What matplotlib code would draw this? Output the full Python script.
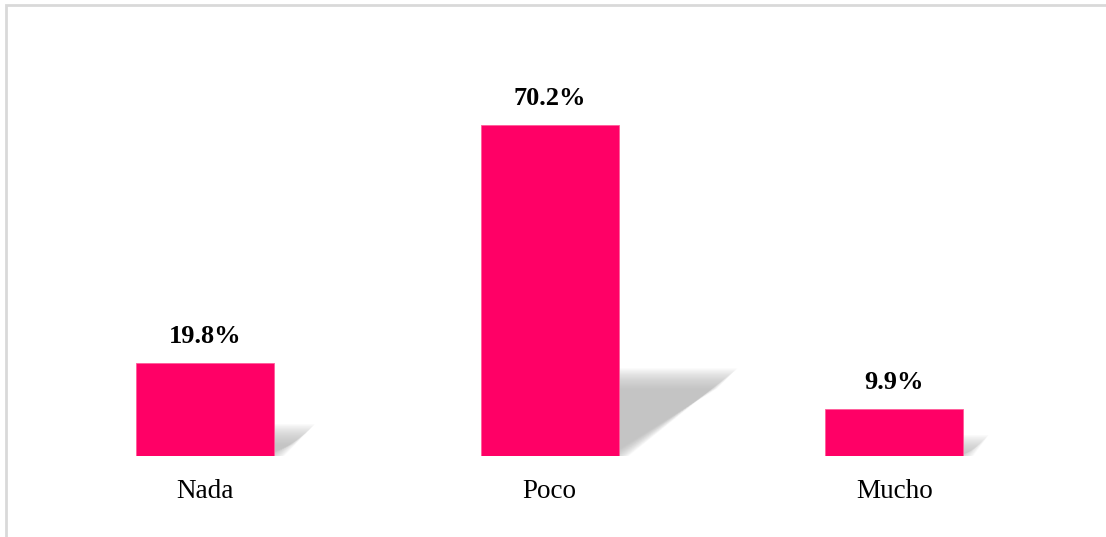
import matplotlib
matplotlib.use("Agg")
import matplotlib.pyplot as plt
from matplotlib.patches import Polygon, Rectangle
import numpy as np

categories = ["Nada", "Poco", "Mucho"]
values = [19.8, 70.2, 9.9]
labels = ["19.8%", "70.2%", "9.9%"]

W, H = 1106, 537
fig = plt.figure(figsize=(W / 100, H / 100), dpi=100)
fig.patch.set_facecolor("white")

# outer light border (top and left visible)
fig.add_artist(Rectangle((5.5 / W, -0.1), 1.2, (H - 4.5) / H + 0.1,
                         transform=fig.transFigure, fill=False,
                         edgecolor="#d9d9d9", linewidth=2.0))

ax = fig.add_axes([33 / W, 81 / H, 1033.5 / W, 377 / H])
ax.set_xlim(-0.5, 2.5)
ax.set_ylim(0, 80)
ax.axis("off")

bar_w = 0.4
color = "#FF0066"
x = np.arange(len(categories))

# pixel sizes in data units
px_x = 3.0 / 1033.5
px_y = 80.0 / 377.0

# soft shadows
s_dx = 0.0045
s_dy = 0.235
n_layers = 20
for xi, v in zip(x, values):
    for j in range(n_layers):
        e = 10.0 - j * (20.0 / (n_layers - 1))  # px expansion
        l = xi - bar_w / 2
        r = xi + bar_w / 2 + e * px_x
        top = max(v * s_dy + e * px_y, 0)
        sh = v * s_dx
        pts = [(l, 0), (r, 0), (r + sh, top), (l + sh, top)]
        ax.add_patch(Polygon(pts, closed=True, facecolor="#b4b4b4",
                             edgecolor="none", alpha=0.06, zorder=1))

ax.bar(x, values, width=bar_w, color=color, edgecolor="#ff5c99",
       linewidth=0.6, zorder=3)

for xi, v, lab in zip(x, values, labels):
    ax.annotate(lab, (xi, v), xytext=(0, 15), textcoords="offset pixels",
                ha="center", va="bottom", fontsize=19, fontweight="bold",
                family="Liberation Serif", color="black", zorder=4)
    ax.annotate(categories[xi], (xi, 0), xytext=(0, -36),
                textcoords="offset pixels", ha="center", va="center",
                fontsize=19.5, family="Liberation Serif", color="black")

fig.savefig("out.png", dpi=100, facecolor="white")
